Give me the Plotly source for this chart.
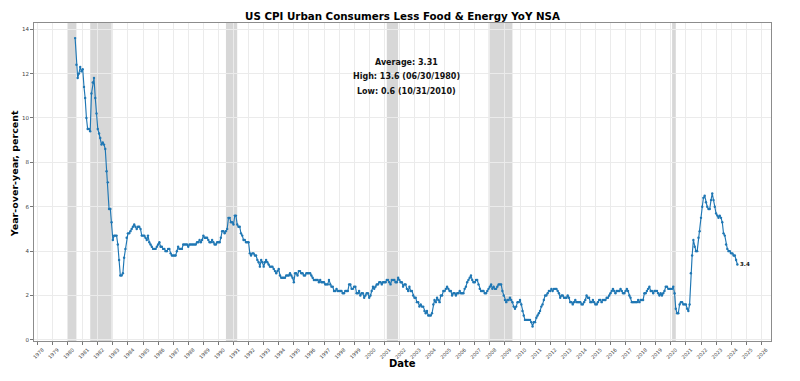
import pandas as pd
import plotly.graph_objects as go

# ---- data: US core CPI YoY (%), monthly, Jun 1980 .. May 2024 ----
v1980 = [13.6, 12.4, 11.8, 12.0, 12.3, 12.1, 12.2]  # Jun-Dec
v1981 = [11.4, 10.9, 10.0, 9.5, 9.5, 9.4, 11.1, 11.6, 11.8, 10.9, 10.2, 9.5]
v1982 = [9.3, 9.1, 8.8, 8.9, 8.8, 8.6, 7.6, 7.1, 5.9, 5.9, 5.3, 4.5]
v1983 = [4.7, 4.7, 4.7, 4.3, 3.6, 2.9, 2.9, 3.0, 3.7, 4.1, 4.6, 4.8]
v1984 = [4.8, 4.9, 5.0, 5.1, 5.2, 5.1, 5.0, 5.1, 5.1, 5.0, 4.7, 4.7]
v1985 = [4.7, 4.6, 4.5, 4.7, 4.4, 4.3, 4.2, 4.1, 4.1, 4.1, 4.2, 4.3]
v1986 = [4.4, 4.2, 4.2, 4.1, 4.1, 4.0, 4.0, 4.1, 4.1, 3.9, 3.8, 3.8]
v1987 = [3.8, 3.8, 4.0, 4.2, 4.1, 4.1, 4.1, 4.3, 4.3, 4.3, 4.3, 4.2]
v1988 = [4.3, 4.3, 4.3, 4.3, 4.3, 4.3, 4.4, 4.4, 4.5, 4.4, 4.5, 4.7]
v1989 = [4.6, 4.6, 4.6, 4.5, 4.4, 4.4, 4.5, 4.4, 4.3, 4.3, 4.4, 4.4]
v1990 = [4.4, 4.6, 4.9, 4.9, 4.8, 4.9, 5.0, 5.5, 5.5, 5.3, 5.3, 5.2]
v1991 = [5.6, 5.6, 5.2, 5.1, 5.1, 4.8, 4.7, 4.5, 4.5, 4.4, 4.4, 4.4]
v1992 = [3.9, 3.8, 3.9, 3.9, 3.8, 3.8, 3.6, 3.5, 3.3, 3.6, 3.5, 3.3]
v1993 = [3.5, 3.6, 3.5, 3.4, 3.3, 3.3, 3.3, 3.2, 3.1, 3.0, 3.1, 3.2]
v1994 = [2.9, 2.8, 2.8, 2.8, 2.8, 2.9, 2.9, 2.9, 3.0, 2.9, 2.8, 2.6]
v1995 = [3.0, 3.0, 2.9, 3.1, 3.1, 3.0, 3.0, 2.9, 2.9, 3.0, 3.0, 3.0]
v1996 = [3.0, 2.9, 2.8, 2.7, 2.7, 2.7, 2.7, 2.6, 2.7, 2.6, 2.6, 2.6]
v1997 = [2.5, 2.5, 2.5, 2.7, 2.5, 2.4, 2.4, 2.2, 2.2, 2.3, 2.2, 2.2]
v1998 = [2.2, 2.2, 2.1, 2.1, 2.2, 2.2, 2.2, 2.5, 2.5, 2.3, 2.3, 2.4]
v1999 = [2.4, 2.1, 2.1, 2.2, 2.0, 2.1, 2.1, 1.9, 2.0, 2.1, 2.1, 1.9]
v2000 = [2.0, 2.2, 2.4, 2.3, 2.4, 2.5, 2.5, 2.6, 2.6, 2.5, 2.6, 2.6]
v2001 = [2.6, 2.7, 2.7, 2.6, 2.5, 2.7, 2.7, 2.7, 2.6, 2.6, 2.8, 2.7]
v2002 = [2.6, 2.6, 2.4, 2.5, 2.5, 2.3, 2.2, 2.4, 2.2, 2.2, 2.0, 1.9]
v2003 = [1.9, 1.7, 1.7, 1.5, 1.6, 1.5, 1.5, 1.3, 1.2, 1.3, 1.1, 1.1]
v2004 = [1.1, 1.2, 1.6, 1.8, 1.7, 1.9, 1.8, 1.7, 2.0, 2.0, 2.2, 2.2]
v2005 = [2.3, 2.4, 2.3, 2.2, 2.2, 2.0, 2.1, 2.1, 2.0, 2.1, 2.1, 2.2]
v2006 = [2.1, 2.1, 2.1, 2.3, 2.4, 2.6, 2.7, 2.8, 2.9, 2.7, 2.6, 2.6]
v2007 = [2.7, 2.7, 2.5, 2.3, 2.2, 2.2, 2.2, 2.1, 2.1, 2.2, 2.3, 2.4]
v2008 = [2.5, 2.3, 2.4, 2.3, 2.3, 2.4, 2.5, 2.5, 2.5, 2.2, 2.0, 1.8]
v2009 = [1.7, 1.8, 1.8, 1.9, 1.8, 1.7, 1.5, 1.4, 1.5, 1.7, 1.7, 1.8]
v2010 = [1.6, 1.3, 1.1, 0.9, 0.9, 0.9, 0.9, 0.9, 0.8, 0.6, 0.8, 0.8]
v2011 = [1.0, 1.1, 1.2, 1.3, 1.5, 1.6, 1.8, 2.0, 2.0, 2.1, 2.2, 2.2]
v2012 = [2.3, 2.2, 2.3, 2.3, 2.3, 2.2, 2.1, 1.9, 2.0, 2.0, 1.9, 1.9]
v2013 = [1.9, 2.0, 1.9, 1.7, 1.7, 1.6, 1.7, 1.8, 1.7, 1.7, 1.7, 1.7]
v2014 = [1.6, 1.6, 1.7, 1.8, 2.0, 1.9, 1.9, 1.7, 1.7, 1.8, 1.7, 1.6]
v2015 = [1.6, 1.7, 1.8, 1.8, 1.7, 1.8, 1.8, 1.8, 1.9, 1.9, 2.0, 2.1]
v2016 = [2.2, 2.3, 2.2, 2.1, 2.2, 2.2, 2.2, 2.3, 2.2, 2.1, 2.1, 2.2]
v2017 = [2.3, 2.2, 2.0, 1.9, 1.7, 1.7, 1.7, 1.7, 1.7, 1.8, 1.7, 1.8]
v2018 = [1.8, 1.8, 2.1, 2.1, 2.2, 2.3, 2.4, 2.2, 2.2, 2.1, 2.2, 2.2]
v2019 = [2.2, 2.1, 2.0, 2.1, 2.0, 2.1, 2.2, 2.4, 2.4, 2.3, 2.3, 2.3]
v2020 = [2.3, 2.4, 2.1, 1.4, 1.2, 1.2, 1.6, 1.7, 1.7, 1.6, 1.6, 1.6]
v2021 = [1.4, 1.3, 1.6, 3.0, 3.8, 4.5, 4.2, 4.0, 4.0, 4.6, 4.9, 5.5]
v2022 = [6.0, 6.4, 6.5, 6.2, 6.0, 5.9, 5.9, 6.3, 6.6, 6.3, 6.0, 5.7]
v2023 = [5.6, 5.5, 5.6, 5.5, 5.3, 4.8, 4.7, 4.3, 4.1, 4.0, 4.0, 3.9]
v2024 = [3.9, 3.8, 3.8, 3.6, 3.4]  # Jan-May

start_month = "1980-06-30"

recession_starts = ["1980-01-01", "1981-07-01", "1990-07-01", "2001-03-01", "2007-12-01", "2020-02-01"]
recession_ends = ["1980-07-31", "1982-11-30", "1991-03-31", "2001-11-30", "2009-06-30", "2020-04-30"]

title_text = "US CPI Urban Consumers Less Food & Energy YoY NSA"
x_label = "Date"
y_label = "Year-over-year, percent"
stats_lines = ["Average: 3.31", "High: 13.6 (06/30/1980)", "Low: 0.6 (10/31/2010)"]

values = (v1980 + v1981 + v1982 + v1983 + v1984 + v1985 + v1986 + v1987 + v1988 + v1989
          + v1990 + v1991 + v1992 + v1993 + v1994 + v1995 + v1996 + v1997 + v1998 + v1999
          + v2000 + v2001 + v2002 + v2003 + v2004 + v2005 + v2006 + v2007 + v2008 + v2009
          + v2010 + v2011 + v2012 + v2013 + v2014 + v2015 + v2016 + v2017 + v2018 + v2019
          + v2020 + v2021 + v2022 + v2023 + v2024)
dates = pd.date_range(start=start_month, periods=len(values), freq="ME")

FONT = "DejaVu Sans"
BLUE = "#1f77b4"

fig = go.Figure()
fig.add_trace(go.Scatter(
    x=dates, y=values, mode="lines+markers",
    line=dict(color=BLUE, width=1.15),
    marker=dict(color=BLUE, size=2.4),
    showlegend=False,
))

for s, e in zip(recession_starts, recession_ends):
    fig.add_shape(type="rect", xref="x", yref="paper", x0=s, x1=e, y0=0, y1=1,
                  fillcolor="#d7d7d7", line=dict(width=0), layer="between")

# stats block
stat_y = [0.875, 0.831, 0.784]
for txt, yy in zip(stats_lines, stat_y):
    fig.add_annotation(text=txt, xref="paper", yref="paper", x=0.506, y=yy,
                       showarrow=False, xanchor="center", yanchor="middle",
                       font=dict(family=FONT, size=8, color="#111", weight="bold"))

# last value label
fig.add_annotation(text=f"{values[-1]:.1f}", x=dates[-1], y=values[-1], xref="x", yref="y",
                   showarrow=False, xanchor="left", yanchor="middle", xshift=1,
                   font=dict(family=FONT, size=5.5, color="#111", weight="bold"))

# axis titles
fig.add_annotation(text=x_label, xref="paper", yref="paper", x=0.5, y=-0.072,
                   showarrow=False, xanchor="center", yanchor="middle",
                   font=dict(family=FONT, size=10, color="#000", weight="bold"))
fig.add_annotation(text=y_label, xref="paper", yref="paper", x=-0.026, y=0.527,
                   showarrow=False, xanchor="center", yanchor="middle", textangle=-90,
                   font=dict(family=FONT, size=9.5, color="#000", weight="bold"))

fig.update_layout(
    width=800, height=381,
    margin=dict(l=34, r=29, t=23, b=40),
    paper_bgcolor="white", plot_bgcolor="white",
    font=dict(family=FONT),
    title=dict(text=title_text, x=0.5, xref="paper", xanchor="center",
               y=(381 - 16) / 381, yref="container", yanchor="middle",
               font=dict(family=FONT, size=10.3, color="#000", weight="bold")),
)
fig.update_xaxes(
    type="date", range=["1977-10-08", "2026-08-23"],
    tick0="1978-01-01", dtick="M12", tickformat="%Y",
    tickangle=-45, tickfont=dict(family=FONT, size=5, color="#444"),
    ticks="outside", ticklen=3, tickcolor="#777", tickwidth=0.8,
    ticklabelshift=5,
    showgrid=True, gridcolor="#ebebeb", gridwidth=0.8,
    showline=True, mirror=True, linecolor="#8c8c8c", linewidth=1,
    zeroline=False,
)
fig.update_yaxes(
    range=[-0.05, 14.28], tick0=0, dtick=2,
    tickfont=dict(family=FONT, size=5.5, color="#444"),
    ticks="outside", ticklen=3, tickcolor="#777", tickwidth=0.8,
    showgrid=True, gridcolor="#ebebeb", gridwidth=0.8,
    showline=True, mirror=True, linecolor="#8c8c8c", linewidth=1,
    zeroline=False,
)

fig.write_html("out.html",
               config={"displayModeBar": False},
               post_script="document.body.style.margin='0';document.body.style.overflow='hidden';")
